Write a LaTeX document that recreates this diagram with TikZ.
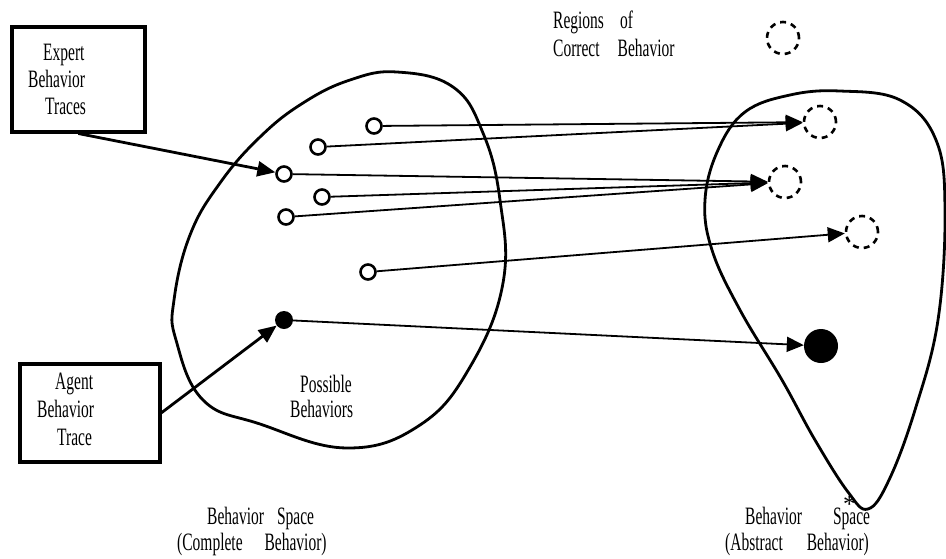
\documentclass[tikz,border=0pt]{standalone}
\usepackage{fontspec}
\usepackage{graphicx}
\setmainfont{Liberation Serif}
\usetikzlibrary{arrows.meta}
% tall, narrow lettering
\newcommand\sq[1]{\scalebox{0.62}[1]{#1}}
\begin{document}
\begin{tikzpicture}[x=1pt,y=-1pt,
  lbl/.style={anchor=base west, inner sep=0pt, font=\fontsize{25}{25}\selectfont},
  tracebox/.style={draw, line width=3.5pt, inner sep=0pt, anchor=north west},
  blob/.style={line width=2.8pt},
  pt/.style={circle, draw, line width=2.6pt, fill=white, minimum size=15pt, inner sep=0pt},
  dot/.style={circle, fill=black, inner sep=0pt, minimum size=18pt},
  bigdot/.style={circle, fill=black, inner sep=0pt, minimum size=34pt},
  region/.style={circle, draw, dash pattern=on 6pt off 5pt, line width=2.6pt, minimum size=32pt, inner sep=0pt},
  link/.style={line width=1.8pt, -{Triangle[length=17pt,width=15pt]}},
  feed/.style={line width=2.8pt, -{Triangle[length=18pt,width=15pt]}},
]
\useasboundingbox (0,0) rectangle (946,558);

% complete behavior space
\draw[blob] plot[smooth cycle, tension=0.7] coordinates {
  (397,72) (453,87) (483,133) (500,200) (503,283) (470,367) (420,425)
  (347,448) (260,424) (203,400) (176,340) (174,300) (190,235) (220,183)
  (260,137) (303,103) (350,80)};

% abstract behavior space
\draw[blob] plot[smooth cycle, tension=0.65] coordinates {
  (840,91) (900,100) (936,140) (945,210) (938,320) (915,410) (889,480)
  (868,509) (848,492) (815,440) (782,380) (740,310) (712,250) (705,200)
  (718,150) (745,112) (790,95)};

% trace boxes
\node[tracebox, minimum width=133pt, minimum height=105pt] (expert) at (10,25) {};
\node[tracebox, minimum width=140pt, minimum height=98pt] (agent) at (18,362) {};

\node[lbl] (ex1) at (43,60) {\sq{Expert}};
\node[lbl] (ex2) at (28,87) {\sq{Behavior}};
\node[lbl] (ex3) at (45,114) {\sq{Traces}};

\node[lbl] (ag1) at (55,389) {\sq{Agent}};
\node[lbl] (ag2) at (37,417) {\sq{Behavior}};
\node[lbl] (ag3) at (57,445) {\sq{Trace}};

% behaviors in the complete space
\node[pt] (c1) at (374,126) {};
\node[pt] (c2) at (318,147) {};
\node[pt] (c3) at (284,174) {};
\node[pt] (c4) at (322,197) {};
\node[pt] (c5) at (286,217) {};
\node[pt] (c6) at (368,272) {};
\node[dot] (d) at (284,320) {};

% regions in the abstract space
\node[region] (legend) at (783,38) {};
\node[region] (ra) at (820,122) {};
\node[region] (rb) at (785,182) {};
\node[region] (rc) at (862,232) {};
\node[bigdot] (bd) at (821,346) {};

% mappings
\draw[link] (c1) -- (ra);
\draw[link] (c2) -- (ra);
\draw[link] (c3) -- (rb);
\draw[link] (c4) -- (rb);
\draw[link] (c5) -- (rb);
\draw[link] (c6) -- (rc);
\draw[link] (d) -- (bd);

\draw[feed] (expert.south) -- (c3);
\draw[feed] (agent.east) -- (d);

% labels
\node[lbl] (rg1) at (553,28) {\sq{Regions}\hspace{16pt}\sq{of}};
\node[lbl] (rg2) at (553,56) {\sq{Correct}\hspace{18pt}\sq{Behavior}};
\node[lbl] (pb1) at (300,392) {\sq{Possible}};
\node[lbl] (pb2) at (290,417) {\sq{Behaviors}};
\node[lbl] (bs1) at (207,524) {\sq{Behavior}\hspace{13pt}\sq{Space}};
\node[lbl] (bs2) at (177,550) {\sq{(Complete}\hspace{22pt}\sq{Behavior)}};
\node[lbl] (as1) at (745,524) {\sq{Behavior}\hspace{31pt}\sq{Sp}\makebox[0pt]{\raisebox{12pt}{*}}\sq{ace}};
\node[lbl] (as2) at (725,550) {\sq{(Abstract}\hspace{24pt}\sq{Behavior)}};
\end{tikzpicture}
\end{document}
